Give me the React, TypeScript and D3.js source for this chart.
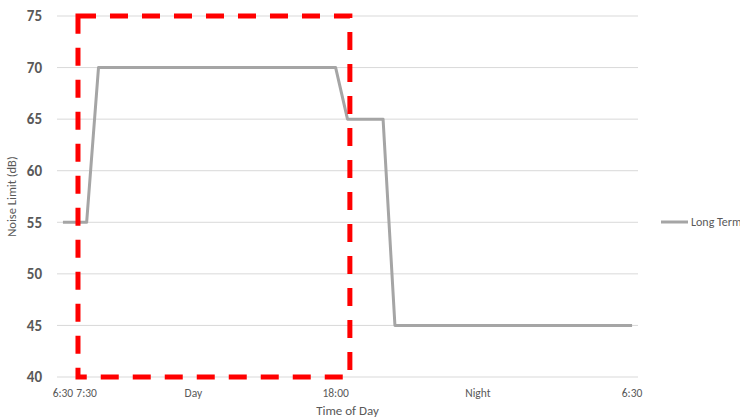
import React from "react";
import * as d3 from "d3";

const categories: string[] = [
  "6:30","7:00","7:30","8:00","8:30","9:00","9:30","10:00","10:30","11:00","11:30","12:00",
  "12:30","13:00","13:30","14:00","14:30","15:00","15:30","16:00","16:30","17:00","17:30","18:00",
  "18:30","19:00","19:30","20:00","20:30","21:00","21:30","22:00","22:30","23:00","23:30","0:00",
  "0:30","1:00","1:30","2:00","2:30","3:00","3:30","4:00","4:30","5:00","5:30","6:00","6:30b"
];
const tickLabels: Record<number, string> = { 0: "6:30", 2: "7:30", 11: "Day", 23: "18:00", 35: "Night", 48: "6:30" };
const longTerm: number[] = [
  55,55,55,70,70,70,70,70,70,70,70,70,70,70,70,70,70,70,70,70,70,70,70,70,
  65,65,65,65,45,45,45,45,45,45,45,45,45,45,45,45,45,45,45,45,45,45,45,45,45
];
const yTicks: number[] = [40, 45, 50, 55, 60, 65, 70, 75];
const seriesName = "Long Term";
// highlight box in category-index units and value units
const boxX: [number, number] = [1.27, 24.2];
const boxY: [number, number] = [40, 75];

export default function App() {
  const W = 740, H = 419;
  const left = 57, right = 638, top = 16, bottom = 377;
  const x = d3.scaleBand<number>().domain(categories.map((_, i) => i)).range([left, right]);
  const cx = (i: number) => x(i)! + x.bandwidth() / 2;
  const xi = d3.scaleLinear().domain([0, categories.length - 1]).range([cx(0), cx(categories.length - 1)]);
  const y = d3.scaleLinear().domain([40, 75]).range([bottom, top]);
  const line = d3.line<number>().x((_, i) => cx(i)).y((d) => y(d));
  const font = "Calibri, Carlito, 'Open Sans', 'Liberation Sans', sans-serif";

  return (
    <svg width={W} height={H} style={{ position: "absolute", left: 0, top: 0, background: "#fff" }} fontFamily={font}>
      {yTicks.map((t) => (
        <g key={t}>
          <line x1={left} x2={right} y1={y(t)} y2={y(t)} stroke="#D9D9D9" strokeWidth={1} />
          <text x={42} y={y(t)} dy="0.35em" textAnchor="end" fontSize={15} fontWeight="bold" fill="#595959">{t}</text>
        </g>
      ))}
      {Object.entries(tickLabels).map(([k, v]) => (
        <text key={k} x={cx(+k)} y={397} textAnchor="middle" fontSize={11.5} fill="#595959">{v}</text>
      ))}
      <text x={(left + right) / 2} y={415} textAnchor="middle" fontSize={13} fill="#595959">Time of Day</text>
      <text transform={`translate(16,${(top + bottom) / 2}) rotate(-90)`} textAnchor="middle" fontSize={12.5} fill="#595959">Noise Limit (dB)</text>
      <path d={line(longTerm) || ""} fill="none" stroke="#A5A5A5" strokeWidth={3} strokeLinejoin="round" />
      <rect x={xi(boxX[0])} y={y(boxY[1])} width={xi(boxX[1]) - xi(boxX[0])} height={y(boxY[0]) - y(boxY[1])}
        fill="none" stroke="#FF0000" strokeWidth={5} strokeDasharray="18 14" />
      <line x1={661} x2={688} y1={222} y2={222} stroke="#A5A5A5" strokeWidth={3} />
      <text x={691} y={222} dy="0.35em" fontSize={12} fill="#595959">{seriesName}</text>
    </svg>
  );
}
